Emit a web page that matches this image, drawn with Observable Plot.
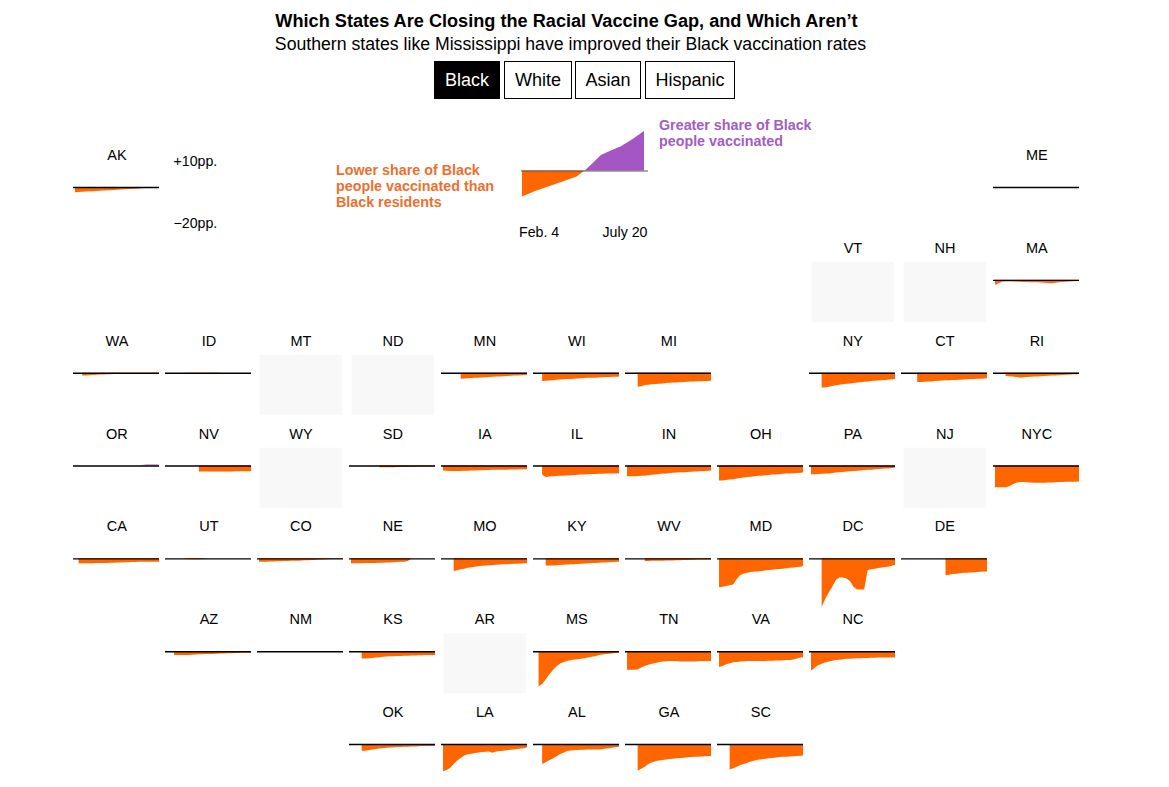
<!DOCTYPE html>
<html><head><meta charset="utf-8">
<script src="https://cdn.jsdelivr.net/npm/d3@7"></script>
<script src="https://cdn.jsdelivr.net/npm/@observablehq/plot@0.6"></script>
<style>
html,body{margin:0;padding:0;background:#fff;overflow:hidden}
body{width:1169px;height:787px;position:relative;font-family:"Liberation Sans",Arial,sans-serif;color:#000}
#head{height:110px;position:relative}
#head div,.note{position:absolute;white-space:nowrap}
#title{left:0;width:1133px;text-align:center;top:11px;font-size:18.15px;font-weight:700;line-height:20px}
#sub{left:0;width:1141px;text-align:center;top:34px;font-size:17.68px;line-height:20px}
.btn{top:61px;height:36px;line-height:36px;border:1px solid #000;text-align:center;font-size:18px;box-sizing:content-box}
.note{font-size:14.3px;font-weight:700;line-height:16px}
.date{position:absolute;font-size:14.2px;white-space:nowrap}
#chart{position:absolute;left:0;top:110px}
#legend{position:absolute;left:515px;top:125px}
</style></head><body>
<div id="head">
<div id="title">Which States Are Closing the Racial Vaccine Gap, and Which Aren’t</div>
<div id="sub">Southern states like Mississippi have improved their Black vaccination rates</div>
<div class="btn" style="left:434px;width:64px;background:#000;color:#fff">Black</div>
<div class="btn" style="left:504px;width:66px">White</div>
<div class="btn" style="left:575px;width:64px">Asian</div>
<div class="btn" style="left:645px;width:88px">Hispanic</div>
</div>
<div id="chart"></div>
<div id="legend"></div>
<div class="note" style="left:336px;top:162px;color:#ee6f2d">Lower share of Black<br>people vaccinated than<br>Black residents</div>
<div class="note" style="left:659px;top:117px;color:#a35cc4">Greater share of Black<br>people vaccinated</div>
<div class="date" style="left:519px;top:224px">Feb. 4</div>
<div class="date" style="left:602.5px;top:224px">July 20</div>
<script>
const _ = null;
const weeks = ["2021-02-04","2021-02-11","2021-02-18","2021-02-25","2021-03-04","2021-03-11","2021-03-18","2021-03-25","2021-04-01","2021-04-08","2021-04-15","2021-04-22","2021-04-29","2021-05-06","2021-05-13","2021-05-20","2021-05-27","2021-06-03","2021-06-10","2021-06-17","2021-06-24","2021-07-01","2021-07-08","2021-07-15","2021-07-20"].map(d => new Date(d));

const AK = [-2.5,-2.4,-2.3,-2.2,-2.1,-2,-1.9,-1.8,-1.7,-1.6,-1.5,-1.4,-1.3,-1.2,-1.1,-1,-.9,-.8,-.7,-.6,-.5,-.5,-.4,-.4,-.3];
const ME = [_,_,_,_,_,_,-.2,-.4,-.5,-.5,-.4,-.3,-.2,-.1,_,_,_,_,_,_,_,_,_,_,_];
const MA = [-2.4,-1.6,-.9,-.8,-.8,-.8,-.9,-.9,-1,-1,-1.1,-1.2,-1.2,-1.3,-1.4,-1.5,-1.6,-1.4,-1.2,-1,-.9,-.8,-.7,-.6,-.5];
const WA = [_,_,-1.3,-1.3,-1.2,-1.1,-1,-.9,-.9,-.8,-.7,-.6,-.5,-.2,-.2,-.2,-.2,-.2,-.2,-.2,-.2,-.2,-.2,-.2,-.2];
const ID = [_,_,_,_,_,-.2,-.3,-.4,-.4,-.4,-.4,-.3,-.2,-.1,-.1,-.1,_,_,_,_,_,_,_,_,_];
const MN = [_,_,_,_,_,-2.9,-2.8,-2.7,-2.6,-2.5,-2.4,-2.3,-2.2,-2.1,-2,-1.9,-1.8,-1.7,-1.6,-1.5,-1.4,-1.3,-1.2,-1.1,-1];
const WI = [_,_,-4,-3.9,-3.8,-3.6,-3.4,-3.3,-3.2,-3.1,-3,-2.9,-2.8,-2.7,-2.6,-2.5,-2.4,-2.4,-2.3,-2.2,-2.1,-2.1,-2,-2,-1.9];
const MI = [_,_,_,-6.8,-6.5,-6,-5.8,-5.6,-5.5,-5.3,-5.2,-5,-4.9,-4.8,-4.7,-4.6,-4.5,-4.4,-4.3,-4.2,-4.1,-4.1,-4,-4,-3.9];
const NY = [_,_,_,-7.1,-7.1,-6.8,-6.4,-6.1,-5.8,-5.6,-5.3,-5.2,-5,-4.8,-4.6,-4.4,-4.2,-4,-3.9,-3.8,-3.6,-3.5,-3.3,-3.2,-3.1];
const CT = [_,_,_,_,-4.5,-4.5,-4.4,-4.3,-4.2,-4,-3.9,-3.8,-3.7,-3.6,-3.5,-3.5,-3.4,-3.3,-3.2,-3.1,-3,-2.9,-2.9,-2.8,-2.7];
const RI = [_,_,_,-1.6,-1.7,-1.9,-2.1,-2.3,-2.2,-2.1,-2,-1.9,-1.8,-1.7,-1.6,-1.5,-1.4,-1.3,-1.2,-1.1,-1,-.9,-.8,-.7,-.6];
const OR = [_,_,_,_,_,_,_,_,_,_,_,_,_,_,_,_,_,_,.1,.3,.45,.45,.45,.45,.4];
const NV = [_,_,_,_,_,_,_,_,_,-2.9,-2.9,-2.9,-2.9,-2.9,-2.9,-2.9,-2.9,-2.9,-2.9,-2.8,-2.8,-2.8,-2.8,-2.8,-2.8];
const SD = [_,_,_,_,_,_,_,_,-.8,-.8,-.8,-.8,-.8,-.7,-.7,-.7,-.6,-.6,-.6,-.5,-.5,-.5,-.5,-.4,-.4];
const IA = [-2.4,-2.5,-2.6,-2.6,-2.6,-2.6,-2.5,-2.5,-2.4,-2.4,-2.3,-2.3,-2.2,-2.2,-2.1,-2.1,-2,-2,-2,-1.9,-1.9,-1.9,-1.8,-1.8,-1.8];
const IL = [_,_,-4.4,-5.5,-5.3,-5.2,-5.1,-5,-4.9,-4.8,-4.7,-4.6,-4.5,-4.4,-4.3,-4.2,-4.1,-4.1,-4,-4,-3.9,-3.9,-3.8,-3.8,-3.7];
const IN = [-5.2,-5.2,-5.2,-5.1,-5,-4.9,-4.7,-4.5,-4.3,-4.1,-3.9,-3.8,-3.6,-3.5,-3.4,-3.3,-3.2,-3.1,-3,-2.9,-2.8,-2.7,-2.6,-2.5,-2.4];
const OH = [-7.2,-7.2,-7,-6.8,-6.6,-6.3,-6,-5.8,-5.6,-5.4,-5.2,-5,-4.9,-4.7,-4.6,-4.4,-4.3,-4.2,-4,-3.9,-3.8,-3.7,-3.6,-3.5,-3.4];
const PA = [-4.2,-4.2,-4.1,-4,-3.9,-3.8,-3.6,-3.4,-3.2,-3.1,-2.9,-2.8,-2.6,-2.5,-2.4,-2.2,-2.1,-2,-1.8,-1.7,-1.6,-1.5,-1.4,-1.2,-1.1];
const NYC = [-10.5,-10.5,-10.5,-10.5,-10,-9,-8.3,-8,-8,-8.1,-8.2,-8.3,-8.3,-8.3,-8.3,-8.2,-8.2,-8.1,-8,-8,-7.9,-7.9,-7.8,-7.8,-7.7];
const CA = [_,-2.4,-2.4,-2.4,-2.4,-2.4,-2.3,-2.3,-2.2,-2.2,-2.1,-2.1,-2,-2,-1.9,-1.9,-1.8,-1.8,-1.7,-1.7,-1.7,-1.6,-1.6,-1.6,-1.6];
const UT = [_,_,_,_,_,-.2,-.3,-.4,-.4,-.4,-.3,-.2,_,_,_,_,_,_,_,_,_,_,_,_,_];
const CO = [-1.6,-1.6,-1.6,-1.5,-1.5,-1.4,-1.4,-1.3,-1.3,-1.2,-1.1,-1.1,-1,-.9,-.9,-.8,-.7,-.6,-.5,-.4,-.3,-.3,-.2,-.2,-.2];
const NE = [-2.4,-2.4,-2.4,-2.4,-2.3,-2.3,-2.2,-2.2,-2.1,-2.1,-2,-2,-1.9,-1.8,-1.7,-1.6,-1.3,-.2,_,_,_,_,_,_,_];
const MO = [_,_,_,-6.1,-5.7,-5.3,-5,-4.6,-4.3,-4,-3.8,-3.6,-3.4,-3.3,-3.2,-3.1,-3,-2.9,-2.8,-2.7,-2.6,-2.6,-2.5,-2.4,-2.4];
const KY = [_,_,_,-3.5,-3.5,-3.4,-3.3,-3.2,-3.1,-3,-2.9,-2.8,-2.7,-2.6,-2.5,-2.4,-2.3,-2.2,-2.1,-2,-2,-1.9,-1.8,-1.7,-1.6];
const WV = [_,_,_,_,_,-1.3,-1.3,-1.2,-1.2,-1.1,-1.1,-1,-1,-1,-.9,-.9,-.8,-.8,-.7,-.7,-.6,-.6,-.6,-.5,-.5];
const MD = [-14,-13.7,-13.4,-13,-12.6,-10,-8,-7.3,-6.9,-6.6,-6.4,-6.3,-6.1,-5.9,-5.6,-5.5,-5.3,-5.2,-5,-4.8,-4.5,-4.4,-4.2,-4,-3.7];
const DC = [_,_,_,-23.4,-19.7,-16.5,-13.7,-10.5,-9.2,-9.2,-9.7,-11,-13.7,-15,-15,-15,-5.6,-5.3,-5,-4.7,-4.4,-4.2,-3.9,-3.5,-3.2];
const DE = [_,_,_,_,_,_,_,_,_,_,_,_,-8.2,-7.9,-7.6,-7.4,-7.2,-7,-6.9,-6.8,-6.7,-6.6,-6.5,-6.4,-6.3];
const AZ = [_,_,-1.9,-1.9,-1.9,-1.8,-1.8,-1.7,-1.6,-1.5,-1.5,-1.4,-1.3,-1.3,-1.2,-1.1,-1.1,-1,-1,-.9,-.9,-.8,-.8,-.7,-.7];
const NM = [_,_,_,_,_,_,_,-.2,-.2,-.2,-.2,-.1,-.1,-.1,_,_,_,_,_,_,_,_,_,_,_];
const KS = [_,_,_,-3.5,-3.5,-3.4,-3.3,-3.1,-2.9,-2.7,-2.6,-2.5,-2.4,-2.3,-2.3,-2.2,-2.2,-2.1,-2.1,-2,-2,-1.9,-1.9,-1.8,-1.8];
const MS = [_,-17,-15.8,-13.7,-11.3,-9.2,-7.4,-6.1,-5.3,-4.7,-4.4,-4,-3.9,-3.7,-3.4,-3.1,-2.7,-2.4,-1.9,-1.6,-1.4,-1.2,-1,-.7,-.5];
const TN = [-9,-9,-9,-8.8,-7.9,-7.1,-6.6,-6.1,-5.7,-5.3,-5,-4.9,-4.7,-4.7,-4.8,-5,-5,-5,-5,-5,-4.9,-4.8,-4.8,-4.7,-4.7];
const VA = [-7.7,-7.1,-6.3,-5.8,-5.4,-5.2,-5,-4.9,-4.8,-4.8,-4.7,-4.7,-4.7,-4.7,-4.6,-4.6,-4.5,-4.5,-4.4,-4.3,-4.3,-4,-3.5,-3.1,-2.9];
const NC = [-9.4,-8,-6.8,-6.1,-5.5,-5,-4.6,-4.3,-4.1,-3.9,-3.7,-3.6,-3.5,-3.4,-3.4,-3.3,-3.3,-3.2,-3.2,-3.1,-3.1,-3,-3,-3,-2.9];
const OK = [_,_,_,-3.2,-3.2,-3,-2.7,-2.4,-2.2,-2,-1.8,-1.7,-1.6,-1.5,-1.4,-1.3,-1.3,-1.2,-1.2,-1.1,-1,-1,-.9,-.9,-.8];
const LA = [-13.2,-12.6,-11.6,-9.7,-8,-6.7,-5.5,-5,-4.7,-4.4,-4.1,-3.9,-3.7,-3.6,-4.2,-3.6,-3.4,-3.2,-3,-2.8,-2.6,-2.4,-2.2,-2,-1.6];
const AL = [_,_,-9.7,-8.8,-7.8,-7,-6,-5,-4.2,-3.4,-3.1,-3,-2.9,-2.8,-2.8,-2.7,-2.7,-2.6,-2.6,-2.5,-2.2,-2,-1.7,-1.4,-1.3];
const GA = [_,_,_,-12.9,-12,-11,-9.7,-8.9,-8.3,-8,-7.7,-7.5,-7.3,-7.1,-6.9,-6.7,-6.6,-6.4,-6.3,-6.2,-6.1,-6,-5.9,-5.8,-5.8];
const SC = [_,_,_,-12.3,-11.7,-11,-10.2,-9.6,-9,-8.5,-8,-7.6,-7.4,-7.1,-6.9,-6.7,-6.5,-6.3,-6.2,-6.1,-6,-5.9,-5.8,-5.7,-5.6];

const names = ["AK","ME","VT","NH","MA","WA","ID","MT","ND","MN","WI","MI","NY","CT","RI","OR","NV","WY","SD","IA","IL","IN","OH","PA","NJ","NYC","CA","UT","CO","NE","MO","KY","WV","MD","DC","DE","AZ","NM","KS","AR","MS","TN","VA","NC","OK","LA","AL","GA","SC"];
const cols  = [0,10,8,9,10,0,1,2,3,4,5,6,8,9,10,0,1,2,3,4,5,6,7,8,9,10,0,1,2,3,4,5,6,7,8,9,1,2,3,4,5,6,7,8,3,4,5,6,7];
const rows  = [0,0,1,1,1,2,2,2,2,2,2,2,2,2,2,3,3,3,3,3,3,3,3,3,3,3,4,4,4,4,4,4,4,4,4,4,5,5,5,5,5,5,5,5,6,6,6,6,6];
const series = [AK,ME,_,_,MA,WA,ID,_,_,MN,WI,MI,NY,CT,RI,OR,NV,_,SD,IA,IL,IN,OH,PA,_,NYC,CA,UT,CO,NE,MO,KY,WV,MD,DC,DE,AZ,NM,KS,_,MS,TN,VA,NC,OK,LA,AL,GA,SC];

const scaleTicks = [10,-20];
const scaleLabels = ["+10pp.","−20pp."];

const legendDates = ["2021-02-04","2021-02-20","2021-03-08","2021-03-24","2021-04-12","2021-04-22","2021-05-02","2021-05-12","2021-05-24","2021-06-05","2021-06-20","2021-07-04"].map(d => new Date(d));
const legendGap = [-13,-10.3,-8,-5.8,-3,0,3.7,7.8,10,12,15.8,19.8];

const ORANGE = "#ff6600", PURPLE = "#a356c4";

const tiles = names.map((name,i) => ({name, col: cols[i], row: rows[i], values: series[i]}));
const points = tiles.filter(t => t.values).flatMap(t =>
  t.values.map((v,j) => ({name:t.name, col:t.col, row:t.row, date:weeks[j], v})).filter(d => d.v !== null));
const live = tiles.filter(t => t.values);
const empty = tiles.filter(t => !t.values);

const plot = Plot.plot({
  width: 1169, height: 677,
  marginLeft: 73, marginRight: 90, marginTop: 58.4, marginBottom: 1.6,
  x: {domain:[new Date("2021-01-31"), new Date("2021-07-20")], axis:null},
  y: {domain:[-20,9], axis:null},
  fx: {domain:d3.range(11), paddingInner:6/92, paddingOuter:0, round:false, axis:null, label:null},
  fy: {domain:d3.range(7), paddingInner:32.83/92.83, paddingOuter:0, round:false, axis:null, label:null},
  style:{background:"transparent", fontFamily:'"Liberation Sans",Arial,sans-serif'},
  marks:[
    Plot.rect(empty,{fx:"col",fy:"row",fill:"#f8f8f8",insetLeft:2.5,insetRight:1,insetTop:0.8,insetBottom:-0.8}),
    Plot.areaY(points,{x:"date",y1:0,y2:d=>Math.min(d.v,0),z:"name",fx:"col",fy:"row",fill:ORANGE}),
    Plot.areaY(points,{x:"date",y1:0,y2:d=>Math.max(d.v,0),z:"name",fx:"col",fy:"row",fill:PURPLE}),
    Plot.ruleY(live,{y:0,fx:"col",fy:"row",stroke:"#000",strokeWidth:1.4}),
    Plot.text(tiles,{text:"name",fx:"col",fy:"row",frameAnchor:"top",lineAnchor:"middle",dy:-13.4,dx:0.4,fontSize:14.5,fill:"#000"}),
    Plot.text(scaleLabels,{text:d=>d,y:(d,i)=>scaleTicks[i],fx:()=>1,fy:()=>0,frameAnchor:"left",textAnchor:"start",dx:8,dy:-5,fontSize:14.2,fill:"#000"})
  ]
});
document.getElementById("chart").append(plot);

const lg = legendDates.map((date,i)=>({date,v:legendGap[i]}));
const legend = Plot.plot({
  width:140,height:80,margin:0,marginLeft:7,marginRight:7,
  x:{domain:[legendDates[0],legendDates[legendDates.length-1]],range:[7,129],axis:null},
  y:{domain:[-15,25],range:[75.5,-4.5],axis:null},
  style:{background:"transparent"},
  marks:[
    Plot.areaY(lg,{x:"date",y1:0,y2:d=>Math.min(d.v,0),fill:ORANGE}),
    Plot.areaY(lg,{x:"date",y1:0,y2:d=>Math.max(d.v,0),fill:PURPLE}),
    Plot.ruleY([0],{x1:legendDates[0],x2:legendDates[legendDates.length-1],insetLeft:-1,insetRight:-4,stroke:"#555",strokeWidth:1})
  ]
});
document.getElementById("legend").append(legend);
</script>
</body></html>
